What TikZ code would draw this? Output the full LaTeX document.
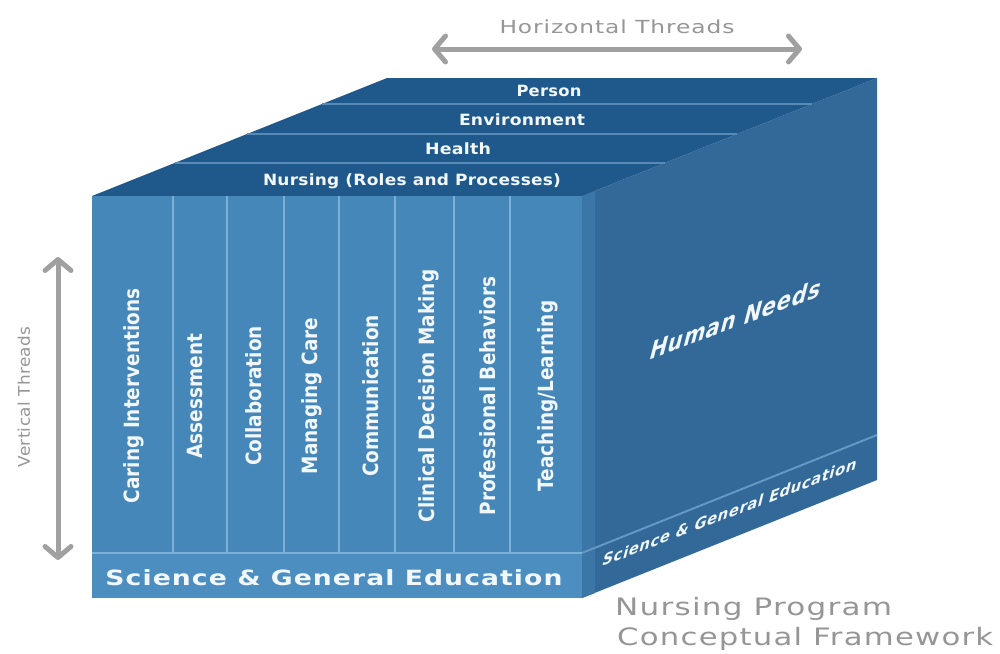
\documentclass[tikz,border=0pt]{standalone}
\usepackage{fontspec}
\usepackage{graphicx}
\usetikzlibrary{arrows.meta}
\setmainfont{DejaVu Sans}
\newfontfamily\boldface{DejaVu Sans Bold}
\newfontfamily\slabface[LetterSpace=1.5]{DejaVu Sans Bold}
\newfontfamily\sciface[LetterSpace=4]{DejaVu Sans Bold}
\newfontfamily\grayface[LetterSpace=4]{DejaVu Sans}
\newfontfamily\grayfacenarrow[LetterSpace=2]{DejaVu Sans}
\newcommand\fitw[2]{\resizebox{#1}{\height}{#2}}
\definecolor{frontblue}{RGB}{70,135,185}
\definecolor{sciblue}{RGB}{76,142,192}
\definecolor{topblue}{RGB}{31,88,139}
\definecolor{sideblue}{RGB}{50,105,152}
\definecolor{sidestrip}{RGB}{60,118,166}
\definecolor{divider}{RGB}{125,176,214}
\definecolor{slabline}{RGB}{88,138,184}
\definecolor{bandline}{RGB}{100,152,196}
\definecolor{textwhite}{RGB}{242,247,252}
\definecolor{threadgray}{RGB}{160,160,160}
\definecolor{labelgray}{RGB}{150,150,150}
\begin{document}
\begin{tikzpicture}[x=1pt,y=-1pt,
  coltext/.style={rotate=90, text=textwhite, inner sep=0pt, font=\boldface\fontsize{21}{22}\selectfont},
  slabtext/.style={text=textwhite, inner sep=0pt, font=\slabface\fontsize{15.5}{16}\selectfont},
  divline/.style={draw=divider, line width=1.6pt},
  slabsep/.style={draw=slabline, line width=2pt},
  thread/.style={draw=threadgray, line width=5pt, {Straight Barb[length=11pt,width=26pt,round]}-{Straight Barb[length=11pt,width=26pt,round]}},
  graylabel/.style={text=labelgray, inner sep=0pt},
  facetext/.style={text=textwhite, inner sep=0pt, transform shape, font=\sciface},
]
\useasboundingbox (0,0) rectangle (1000,653);
\fill[white] (0,0) rectangle (1000,653);

% right face
\fill[sideblue] (582,196) -- (877,78) -- (877,480) -- (582,598) -- cycle;
\fill[sidestrip] (582,196) -- (595,191) -- (595,593) -- (582,598) -- cycle;
\draw[draw=bandline, line width=2pt] (582,553) -- (877,435);

% top face
\fill[topblue] (92,196) -- (582,196) -- (877,78) -- (387,78) -- cycle;
\draw[slabsep] (174.5,163) -- (664.5,163);
\draw[slabsep] (247,134) -- (737,134);
\draw[slabsep] (322,104) -- (812,104);

% front face
\fill[frontblue] (92,196) rectangle (582,553);
\fill[sciblue] (92,553) rectangle (582,598);
\foreach \xx in {173,227,284,339,395,454,510}
  \draw[divline] (\xx,196) -- (\xx,553);
\draw[divline] (92,553) -- (582,553);

% column texts
\node[coltext] (caring) at (134,396) {\scalebox{0.88}[1]{Caring Interventions}};
\node[coltext] (assess) at (195,396) {\scalebox{0.88}[1]{Assessment}};
\node[coltext] (collab) at (254,396) {\scalebox{0.88}[1]{Collaboration}};
\node[coltext] (managing) at (312,396) {\scalebox{0.88}[1]{Managing Care}};
\node[coltext] (comm) at (371,396) {\scalebox{0.88}[1]{Communication}};
\node[coltext] (clinical) at (429,396) {\scalebox{0.88}[1]{Clinical Decision Making}};
\node[coltext] (prof) at (488,396) {\scalebox{0.88}[1]{Professional Behaviors}};
\node[coltext] (teach) at (548,396) {\scalebox{0.88}[1]{Teaching/Learning}};

% slab texts
\node[slabtext] (person) at (549,91) {\fitw{65pt}{Person}};
\node[slabtext] (environment) at (522,120) {\fitw{126pt}{Environment}};
\node[slabtext] (health) at (458,149) {\fitw{66pt}{Health}};
\node[slabtext] (nursing) at (412,181) {\fitw{298pt}{Nursing (Roles and Processes)}};

% front science bar
\node[text=textwhite, inner sep=0pt, font=\sciface\fontsize{21}{22}\selectfont] (scifront) at (334,578) {\fitw{457pt}{Science \& General Education}};

% right face texts
\node[facetext, rotate=20.5, xslant=0.7, font=\sciface\fontsize{22}{23}\selectfont] (needs) at (736,319) {\fitw{182pt}{Human Needs}};
\node[facetext, rotate=21, xslant=0.7, font=\sciface\fontsize{14}{15}\selectfont] (sciside) at (730,512) {\fitw{272pt}{Science \& General Education}};

% threads
\coordinate (hl) at (432,49);
\coordinate (hr) at (802,49);
\draw[thread] (hl) -- (hr);
\node[graylabel, font=\grayface\fontsize{18}{19}\selectfont] (hthreads) at (617,27) {\fitw{235pt}{Horizontal Threads}};
\coordinate (vt) at (58,257);
\coordinate (vb) at (58,560);
\draw[thread] (vt) -- (vb);
\node[graylabel, rotate=90, font=\grayfacenarrow\fontsize{16}{17}\selectfont] (vthreads) at (24,397) {\fitw{141pt}{Vertical Threads}};

% title
\node[graylabel, anchor=base west, font=\grayface\fontsize{24}{25}\selectfont] (title1) at (615,615) {\fitw{277pt}{Nursing Program}};
\node[graylabel, anchor=base west, font=\grayface\fontsize{24}{25}\selectfont] (title2) at (617,645) {\fitw{376pt}{Conceptual Framework}};
\end{tikzpicture}
\end{document}
